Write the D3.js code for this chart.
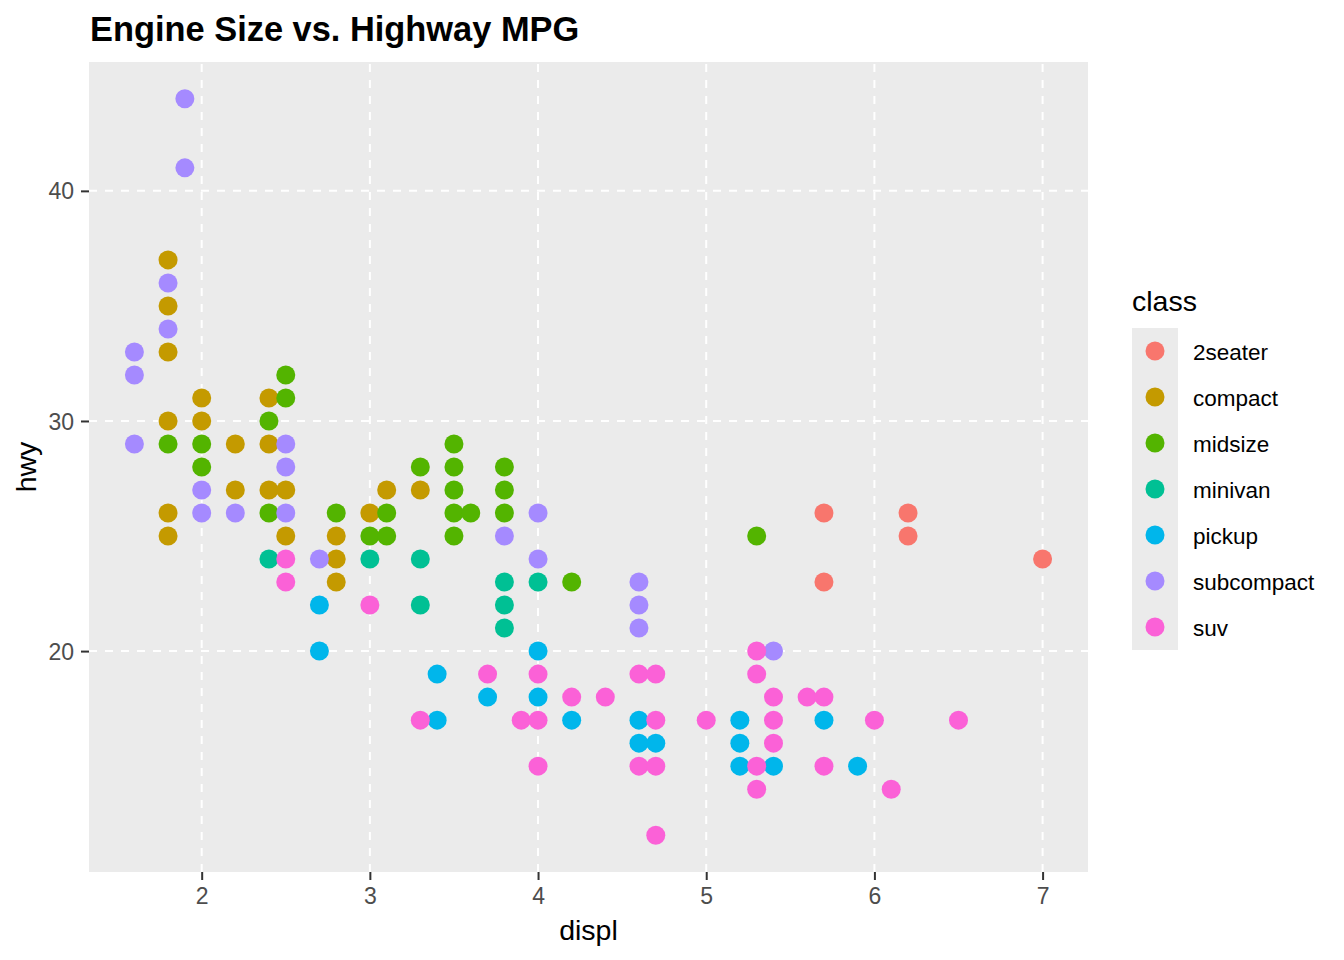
<!DOCTYPE html>
<html>
<head>
<meta charset="utf-8">
<script src="https://cdn.jsdelivr.net/npm/d3@7"></script>
<style>
  body { margin: 0; background: #fff; }
  text { font-family: "Liberation Sans", Arial, sans-serif; }
</style>
</head>
<body>
<div id="chart"></div>
<script>
// categories and colours (ggplot hue palette)
const classes = ["2seater", "compact", "midsize", "minivan", "pickup", "subcompact", "suv"];
const palette = ["#F8766D", "#C49A00", "#53B400", "#00C094", "#00B6EB", "#A58AFF", "#FB61D7"];

// [displ, hwy], one list per class
const twoSeater = [[5.7, 26], [5.7, 23], [6.2, 26], [6.2, 25], [7.0, 24]];
const compact = [
  [1.8, 37], [1.8, 35], [1.8, 33], [1.8, 30], [1.8, 26], [1.8, 25],
  [2.0, 31], [2.0, 30], [2.2, 29], [2.2, 27],
  [2.4, 31], [2.4, 29], [2.4, 27], [2.5, 27], [2.5, 25],
  [2.8, 25], [2.8, 24], [2.8, 23], [3.0, 26], [3.1, 27], [3.3, 27]
];
const midsize = [
  [1.8, 29], [2.0, 29], [2.0, 28], [2.4, 30], [2.4, 26], [2.5, 32], [2.5, 31],
  [2.8, 26], [3.0, 25], [3.1, 26], [3.1, 25], [3.3, 28],
  [3.5, 29], [3.5, 28], [3.5, 27], [3.5, 26], [3.5, 25], [3.6, 26],
  [3.8, 28], [3.8, 27], [3.8, 26], [4.2, 23], [5.3, 25]
];
const minivan = [
  [2.4, 24], [3.0, 24], [3.3, 24], [3.3, 22],
  [3.8, 23], [3.8, 22], [3.8, 21], [4.0, 23]
];
const pickup = [
  [2.7, 22], [2.7, 20], [3.4, 19], [3.4, 17], [3.7, 18], [4.0, 20], [4.0, 18],
  [4.2, 17], [4.6, 17], [4.6, 16], [4.7, 16], [5.2, 17], [5.2, 16], [5.2, 15],
  [5.4, 15], [5.7, 17], [5.9, 15]
];
const subcompact = [
  [1.6, 33], [1.6, 32], [1.6, 29], [1.8, 36], [1.8, 34], [1.9, 44], [1.9, 41],
  [2.0, 27], [2.0, 26], [2.2, 26], [2.5, 29], [2.5, 28], [2.5, 26], [2.7, 24],
  [3.8, 25], [4.0, 26], [4.0, 24], [4.6, 23], [4.6, 22], [4.6, 21], [5.4, 20]
];
const suv = [
  [2.5, 24], [2.5, 23], [3.0, 22], [3.3, 17], [3.7, 19], [3.9, 17],
  [4.0, 19], [4.0, 17], [4.0, 15], [4.2, 18], [4.4, 18],
  [4.6, 19], [4.6, 15], [4.7, 19], [4.7, 17], [4.7, 15], [4.7, 12],
  [5.0, 17], [5.3, 20], [5.3, 19], [5.3, 15], [5.3, 14],
  [5.4, 18], [5.4, 17], [5.4, 16], [5.6, 18], [5.7, 18], [5.7, 15],
  [6.0, 17], [6.1, 14], [6.5, 17]
];
const seriesByClass = [twoSeater, compact, midsize, minivan, pickup, subcompact, suv];

const xTicks = [2, 3, 4, 5, 6, 7];
const yTicks = [20, 30, 40];

const W = 1344, H = 960;
const panel = { left: 89, right: 1088, top: 62, bottom: 872 };

const svg = d3.select("#chart").append("svg")
  .attr("width", W).attr("height", H);

const x = d3.scaleLinear().domain([1.33, 7.27]).range([panel.left, panel.right]);
const y = d3.scaleLinear().domain([10.4, 45.6]).range([panel.bottom, panel.top]);
const color = d3.scaleOrdinal().domain(classes).range(palette);

// panel background
svg.append("rect")
  .attr("x", panel.left).attr("y", panel.top)
  .attr("width", panel.right - panel.left).attr("height", panel.bottom - panel.top)
  .attr("fill", "#EBEBEB");

// dashed white grid
svg.append("g").selectAll("line").data(xTicks).join("line")
  .attr("x1", d => x(d)).attr("x2", d => x(d))
  .attr("y1", panel.bottom).attr("y2", panel.top)
  .attr("stroke", "#fff").attr("stroke-width", 2).attr("stroke-dasharray", "8,8");
svg.append("g").selectAll("line").data(yTicks).join("line")
  .attr("x1", panel.left).attr("x2", panel.right)
  .attr("y1", d => y(d)).attr("y2", d => y(d))
  .attr("stroke", "#fff").attr("stroke-width", 2).attr("stroke-dasharray", "8,8");

// points
const points = classes.flatMap((c, i) => seriesByClass[i].map(([displ, hwy]) => ({ c, displ, hwy })));
svg.append("g").selectAll("circle").data(points).join("circle")
  .attr("cx", d => x(d.displ))
  .attr("cy", d => y(d.hwy))
  .attr("r", 9.5)
  .attr("fill", d => color(d.c));

// axes
const xAxis = svg.append("g")
  .attr("transform", `translate(0,${panel.bottom})`)
  .call(d3.axisBottom(x).tickValues(xTicks).tickFormat(d3.format("d")).tickSize(8).tickPadding(8));
const yAxis = svg.append("g")
  .attr("transform", `translate(${panel.left},0)`)
  .call(d3.axisLeft(y).tickValues(yTicks).tickFormat(d3.format("d")).tickSize(8).tickPadding(7));
[xAxis, yAxis].forEach(a => {
  a.select(".domain").remove();
  a.selectAll(".tick line").attr("stroke", "#333").attr("stroke-width", 2);
  a.selectAll(".tick text")
    .attr("fill", "#4D4D4D")
    .style("font-size", "23px")
    .style("font-family", '"Liberation Sans", Arial, sans-serif');
});
xAxis.selectAll(".tick text").attr("dy", "0.71em");
yAxis.selectAll(".tick text").attr("dy", "0.35em");

// titles
svg.append("text")
  .attr("x", 90).attr("y", 41)
  .attr("font-size", 34.4).attr("font-weight", "bold")
  .text("Engine Size vs. Highway MPG");
svg.append("text")
  .attr("x", (panel.left + panel.right) / 2).attr("y", 940)
  .attr("text-anchor", "middle").attr("font-size", 28.5)
  .text("displ");
svg.append("text")
  .attr("transform", `translate(36,${(panel.top + panel.bottom) / 2}) rotate(-90)`)
  .attr("text-anchor", "middle").attr("font-size", 28.5)
  .text("hwy");

// legend
const legend = svg.append("g").attr("transform", "translate(1132,328)");
legend.append("text")
  .attr("x", 0).attr("y", -17.5)
  .attr("font-size", 28.5)
  .text("class");
legend.append("rect")
  .attr("width", 46).attr("height", 46 * classes.length)
  .attr("fill", "#EBEBEB");
const keys = legend.selectAll("g.key").data(classes).join("g")
  .attr("class", "key")
  .attr("transform", (d, i) => `translate(0,${46 * i + 23})`);
keys.append("circle")
  .attr("cx", 23).attr("r", 9.5)
  .attr("fill", d => color(d));
keys.append("text")
  .attr("x", 61).attr("y", 8.5)
  .attr("font-size", 22.5)
  .text(d => d);
</script>
</body>
</html>
